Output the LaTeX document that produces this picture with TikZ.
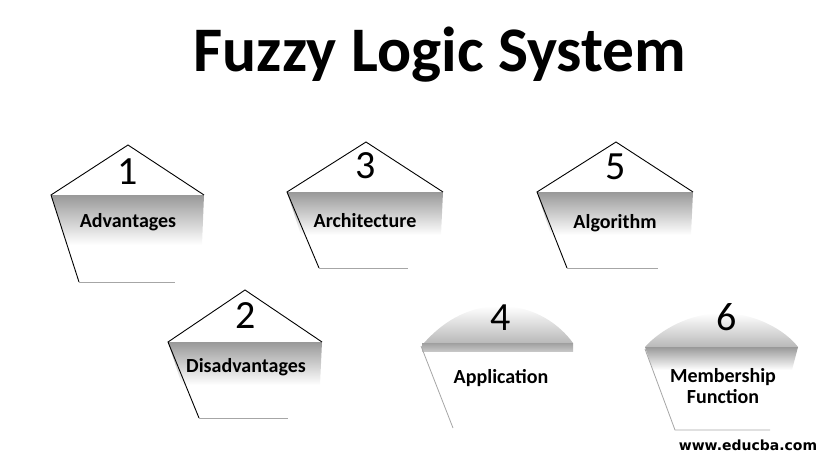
\documentclass[tikz,border=0pt]{standalone}
\usepackage{fontspec}
\setmainfont{Carlito}
\newfontfamily\webfont{DejaVu Sans}
\begin{document}
\begin{tikzpicture}[x=1pt,y=-1pt]
\tikzset{
  outl/.style={draw=black, line width=0.9pt},
  faint/.style={draw=gray!70, line width=0.8pt},
  band/.style={top color=gray!80, bottom color=white, draw=none},
  dome/.style={top color=white, bottom color=gray!55, draw=none},
  num/.style={font=\fontsize{40}{40}\selectfont, inner sep=0pt},
  lab/.style={font=\bfseries\fontsize{20}{22}\selectfont, inner sep=0pt, align=center}
}
\useasboundingbox (0,0) rectangle (837,471);
% title
\node (title) at (440,55) {\bfseries\fontsize{63.5}{63.5}\selectfont Fuzzy Logic System};

% shape 1
\shade[band] (51,195) -- (204,195) -- (202,245) -- (67,245) -- cycle;
\coordinate (a1) at (128,145); \coordinate (l1) at (51,195); \coordinate (r1) at (204,195);
\coordinate (bl1) at (79,282); \coordinate (br1) at (175,282);
\draw[outl] (bl1) -- (l1) -- (a1) -- (r1);
\draw[faint] (bl1) -- (br1);
\node[num] (n1) at (128,172) {1};
\node[lab] (t1) at (128,222) {Advantages};

% shape 3
\shade[band] (287,192) -- (443,192) -- (441,235) -- (301,235) -- cycle;
\coordinate (a3) at (366,142); \coordinate (l3) at (287,192); \coordinate (r3) at (443,192);
\coordinate (bl3) at (319,268); \coordinate (br3) at (408,268);
\draw[outl] (bl3) -- (l3) -- (a3) -- (r3);
\draw[faint] (bl3) -- (br3);
\node[num] (n3) at (366,166) {3};
\node[lab] (t3) at (365,221) {Architecture};

% shape 5
\shade[band] (537,192) -- (693,192) -- (691,235) -- (551,235) -- cycle;
\coordinate (a5) at (616,142); \coordinate (l5) at (537,192); \coordinate (r5) at (693,192);
\coordinate (bl5) at (567,268); \coordinate (br5) at (658,268);
\draw[outl] (bl5) -- (l5) -- (a5) -- (r5);
\draw[faint] (bl5) -- (br5);
\node[num] (n5) at (616,167) {5};
\node[lab] (t5) at (615,223) {Algorithm};

% shape 2
\shade[band] (168,342) -- (322,342) -- (320,385) -- (182,385) -- cycle;
\coordinate (a2) at (245,290); \coordinate (l2) at (168,342); \coordinate (r2) at (322,342);
\coordinate (bl2) at (199,418); \coordinate (br2) at (288,418);
\draw[outl] (bl2) -- (l2) -- (a2) -- (r2);
\draw[faint] (bl2) -- (br2);
\node[num] (n2) at (246,316) {2};
\node[lab] (t2) at (246,367) {Disadvantages};

% shape 4
\shade[dome] (424,343) .. controls (440,325) and (465,306) .. (500,306) .. controls (535,306) and (560,325) .. (573,343) -- cycle;
\shade[top color=gray!75, bottom color=gray!45, draw=none] (422,343) rectangle (573,351);
\coordinate (l4) at (421,346); \coordinate (bl4) at (453,428);
\draw[faint] (l4) -- (bl4);
\node[num] (n4) at (501,318) {4};
\node[lab] (t4) at (501,378) {Application};

% shape 6
\shade[dome] (645,347) .. controls (660,330) and (690,313) .. (722,313) .. controls (755,313) and (785,330) .. (798,347) -- cycle;
\shade[band] (645,347) -- (798,347) -- (792,370) -- (653,370) -- cycle;
\coordinate (l6) at (645,349); \coordinate (bl6) at (675,430); \coordinate (br6) at (770,430);
\draw[faint] (l6) -- (bl6) -- (br6);
\node[num] (n6) at (727,317) {6};
\node[lab] (t6) at (723,386) {Membership\\[-1pt]Function};

\node[font=\webfont\bfseries\fontsize{14}{14}\selectfont] (web) at (748,445) {www.educba.com};
\end{tikzpicture}
\end{document}
